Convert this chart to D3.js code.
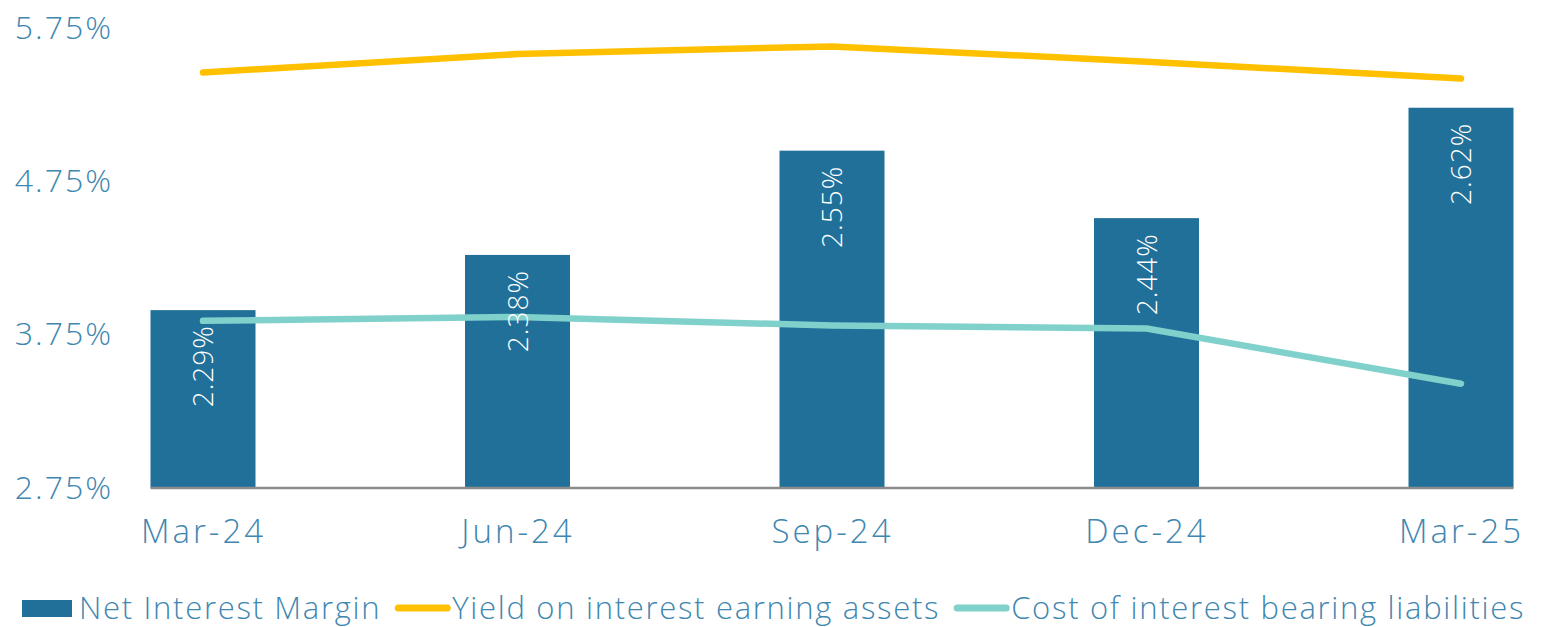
<!DOCTYPE html>
<html>
<head>
<meta charset="utf-8">
<script src="https://cdn.jsdelivr.net/npm/d3@7"></script>
<style>
  body { margin: 0; background: #fff; }
  svg text { font-family: "Open Sans", "Lato", sans-serif; }
</style>
</head>
<body>
<svg id="chart" width="1553" height="627"></svg>
<script>
// data
var quarters = ["Mar-24", "Jun-24", "Sep-24", "Dec-24", "Mar-25"];
var nim = [2.29, 2.38, 2.55, 2.44, 2.62];          // bars, secondary axis
var yieldAssets = [5.46, 5.58, 5.63, 5.53, 5.42];  // yellow line
var costLiab = [3.84, 3.865, 3.81, 3.79, 3.43];    // teal line
var yTicks = [2.75, 3.75, 4.75, 5.75];

var seriesNames = ["Net Interest Margin", "Yield on interest earning assets", "Cost of interest bearing liabilities"];

// style
var barColor = "#20709a", yellow = "#ffc000", teal = "#80d1cb";
var textColor = "#3f87b0";
var svg = d3.select("#chart");

var plotTop = 28, plotBottom = 488;
var x = d3.scalePoint().domain(quarters).range([203, 1461]);
var barW = 105;
var y = d3.scaleLinear().domain([2.75, 5.75]).range([plotBottom, plotTop]);
var y2 = d3.scaleLinear().domain([2.0, 2.75]).range([plotBottom, plotTop]); // hidden axis for NIM

// y axis labels
var yAxis = d3.axisLeft(y).tickValues(yTicks).tickSize(0).tickPadding(0)
    .tickFormat(function (d) { return d3.format(".2f")(d) + "%"; });
svg.append("g").attr("transform", "translate(113,0)").call(yAxis)
    .call(function (g) { g.select(".domain").remove(); })
    .selectAll("text")
    .attr("fill", textColor).attr("font-size", 32).attr("font-weight", 300)
    .style("letter-spacing", "2px");

// bars
svg.selectAll("rect.bar").data(nim).enter().append("rect")
    .attr("class", "bar")
    .attr("x", function (d, i) { return x(quarters[i]) - barW / 2; })
    .attr("y", function (d) { return y2(d); })
    .attr("width", barW)
    .attr("height", function (d) { return plotBottom - y2(d); })
    .attr("fill", barColor);

// x axis line + labels
var xAxis = d3.axisBottom(x).tickSize(0).tickPadding(32);
var gx = svg.append("g").attr("transform", "translate(0," + plotBottom + ")").call(xAxis);
gx.select(".domain").remove();
gx.append("line")
    .attr("x1", x(quarters[0]) - barW / 2).attr("x2", x(quarters[quarters.length - 1]) + barW / 2)
    .attr("stroke", "#8c8c8c").attr("stroke-width", 2.5);
gx.selectAll("text").attr("fill", textColor).attr("font-size", 33).attr("font-weight", 300)
    .style("letter-spacing", "3px");

// lines
var line = d3.line()
    .x(function (d, i) { return x(quarters[i]); })
    .y(function (d) { return y(d); });

[[yieldAssets, yellow], [costLiab, teal]].forEach(function (s) {
    svg.append("path").datum(s[0])
        .attr("d", line)
        .attr("fill", "none")
        .attr("stroke", s[1])
        .attr("stroke-width", 6.5)
        .attr("stroke-linecap", "round")
        .attr("stroke-linejoin", "round");
});

// bar labels (rotated, inside the bars)
svg.selectAll("text.nim").data(nim).enter().append("text")
    .attr("class", "nim")
    .attr("transform", function (d, i) {
        return "translate(" + (x(quarters[i]) + 10) + "," + (y2(d) + 15) + ") rotate(-90)";
    })
    .attr("text-anchor", "end")
    .attr("fill", "#ffffff")
    .attr("font-size", 28)
    .attr("font-weight", 300)
    .style("letter-spacing", "1px")
    .text(function (d) { return d3.format(".2f")(d) + "%"; });

// legend
var legend = svg.append("g").attr("transform", "translate(0,608)");
var lx = 22;
seriesNames.forEach(function (name, i) {
    if (i == 0) {
        legend.append("rect").attr("x", lx).attr("y", -8).attr("width", 50).attr("height", 17).attr("fill", barColor);
    } else {
        legend.append("line").attr("x1", lx + 3).attr("x2", lx + 52).attr("y1", 0).attr("y2", 0)
            .attr("stroke", i == 1 ? yellow : teal).attr("stroke-width", 7).attr("stroke-linecap", "round");
    }
    lx += 57;
    var t = legend.append("text").attr("x", lx).attr("y", 11)
        .attr("fill", textColor).attr("font-size", 31).attr("font-weight", 300)
        .style("letter-spacing", "1.7px")
        .text(name);
    lx += t.node().getComputedTextLength() + 14;
});
</script>
</body>
</html>
